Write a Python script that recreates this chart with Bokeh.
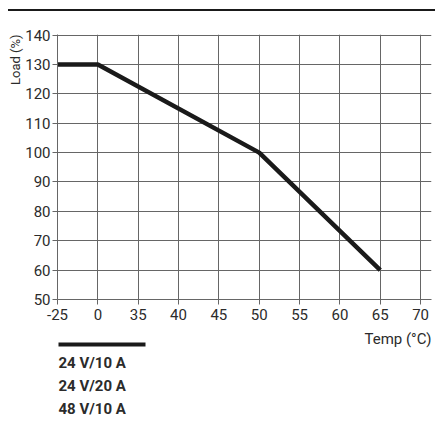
from bokeh.plotting import figure
from bokeh.models import Range1d, FixedTicker, Title, Div
from bokeh.layouts import column
from bokeh.core.properties import value
from bokeh.embed import file_html
from bokeh.resources import INLINE

# Data
tick_labels = [-25, 0, 35, 40, 45, 50, 55, 60, 65, 70]
y_ticks = [50, 60, 70, 80, 90, 100, 110, 120, 130, 140]
temps = [-25, 0, 50, 65]
loads = [130, 130, 100, 60]
legend_labels = ["24 V/10 A", "24 V/20 A", "48 V/10 A"]

FONT = "Roboto"
GRID = "#666666"
TXT = "#2b2b2b"
LINE = "#1a1a1a"

xs = [tick_labels.index(t) for t in temps]

p = figure(width=435, height=317, output_backend="svg", toolbar_location=None,
           x_range=Range1d(0, 9.27), y_range=Range1d(50, 140.2),
           min_border_left=57, min_border_right=4, min_border_top=23, min_border_bottom=29)
p.outline_line_color = None

p.line(xs, loads, line_width=4.5, line_color=LINE, line_join="round")

p.xaxis.ticker = FixedTicker(ticks=list(range(len(tick_labels))))
p.xaxis.major_label_overrides = {i: str(t) for i, t in enumerate(tick_labels)}
p.yaxis.ticker = FixedTicker(ticks=y_ticks)
for ax in (p.xaxis[0], p.yaxis[0]):
    ax.axis_line_color = GRID
    ax.major_tick_line_color = GRID
    ax.major_tick_in = 0
    ax.major_tick_out = 5
    ax.minor_tick_line_color = None
    ax.major_label_text_font = FONT
    ax.major_label_text_font_size = "15px"
    ax.major_label_text_color = TXT
p.xaxis.major_label_standoff = 4
p.yaxis.major_label_standoff = 2

p.xgrid.ticker = FixedTicker(ticks=list(range(len(tick_labels))))
p.ygrid.ticker = FixedTicker(ticks=y_ticks)
p.grid.grid_line_color = GRID
p.grid.grid_line_alpha = 1.0

p.add_layout(Title(text="Load (%)", align="right", text_font=FONT, text_font_size="13px",
                   text_color=TXT, text_font_style="normal", standoff=0, offset=0), "left")

# Legend / axis-title strip below the chart (page-pixel coordinates; frame aligns with chart frame)
lg = figure(width=435, height=98, output_backend="svg", toolbar_location=None,
            x_range=Range1d(57, 431), y_range=Range1d(98, 0),
            min_border=0, x_axis_type=None, y_axis_type=None)
lg.outline_line_color = None
lg.grid.visible = False
lg.text(x=[431], y=[10], text=["Temp (°C)"], text_font=value(FONT), text_font_size="15px",
        text_color=TXT, text_align="right", text_baseline="middle")
lg.segment(x0=[58], y0=[16], x1=[145], y1=[16], line_width=4, line_color=LINE)
lg.text(x=[58, 58, 58], y=[34, 57, 80], text=legend_labels, text_font=value(FONT),
        text_font_size="15px", text_font_style="bold", text_color=TXT,
        text_align="left", text_baseline="middle")

rule = Div(text="", width=427, height=2, margin=(9, 0, 0, 8),
           styles={"background-color": LINE})

layout = column(rule, p, lg, spacing=0)
open("out.html", "w").write(file_html(layout, INLINE))
